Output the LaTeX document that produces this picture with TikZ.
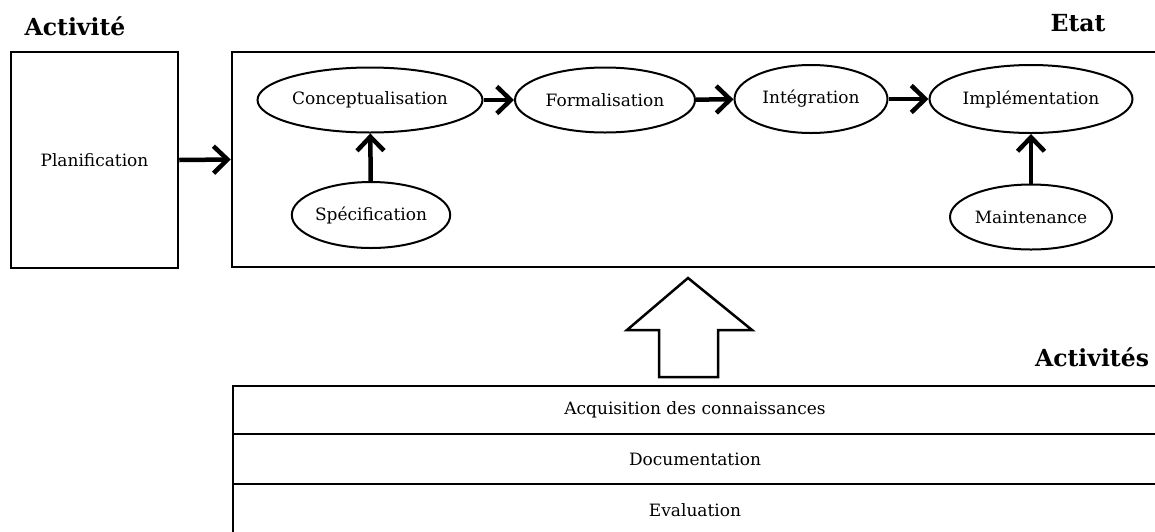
\documentclass[tikz,border=0pt]{standalone}
\usepackage{fontspec}
\setmainfont{DejaVu Serif}
\usetikzlibrary{shapes.geometric,arrows.meta}
\tikzset{
  txt/.style={font=\fontsize{17}{20}\selectfont},
  ell/.style={ellipse, draw, line width=2pt, inner sep=0pt, txt},
  box/.style={draw, line width=2.5pt, inner sep=0pt},
  rowbox/.style={draw, line width=2.5pt, inner sep=0pt, minimum width=924pt, txt},
  title/.style={font=\bfseries\fontsize{23.5}{26}\selectfont, inner sep=0pt},
  flow/.style={line width=4.5pt, -{Straight Barb[length=14pt,width=27pt]}},
  bigarrow/.style={draw, line width=2.5pt, fill=white, line join=miter},
}
\begin{document}
\begin{tikzpicture}[x=1pt,y=-1pt]
\useasboundingbox (0,0) rectangle (1155,531);
\clip (0,0) rectangle (1155,531);
% titles
\node[title] (tact) at (75,26) {Activité};
\node[title] (tetat) at (1078,23) {Etat};
\node[title] (tacts) at (1092,357) {Activités};
% planification box
\node[box, minimum width=167pt, minimum height=216pt, txt] (plan) at (94.5,160) {Planification};
% state box
\node[box, minimum width=925pt, minimum height=215pt] (etat) at (694.5,159.5) {};
% ellipses
\node[ell, minimum width=225pt, minimum height=65pt] (concept) at (370,100) {Conceptualisation};
\node[ell, minimum width=180pt, minimum height=65pt] (formal) at (605,100) {Formalisation};
\node[ell, minimum width=153pt, minimum height=68pt] (integ) at (811,99) {Intégration};
\node[ell, minimum width=203pt, minimum height=68pt] (impl) at (1031,99) {Implémentation};
\node[ell, minimum width=158pt, minimum height=66pt] (spec) at (371,215) {Spécification};
\node[ell, minimum width=162pt, minimum height=65pt] (maint) at (1031,217) {Maintenance};
% arrows
\draw[flow] (plan.east) -- (etat.west);
\draw[flow] (concept) -- (formal);
\draw[flow] (formal) -- (integ);
\draw[flow] (integ) -- (impl);
\draw[flow] (spec) -- (concept);
\draw[flow] (maint) -- (impl);
% activities rows
\node[rowbox, minimum height=48pt] (acq) at (695,410) {Acquisition des connaissances};
\node[rowbox, minimum height=50pt] (doc) at (695,459) {Documentation};
\node[rowbox, minimum height=50pt] (eval) at (695,509) {};
\node[txt] (evaltxt) at (695,510) {Evaluation};
% big hollow arrow
\draw[bigarrow] (688,278) -- (752,330) -- (718,330) -- (718,377) -- (659,377) -- (659,330) -- (627,330) -- cycle;
\end{tikzpicture}
\end{document}
